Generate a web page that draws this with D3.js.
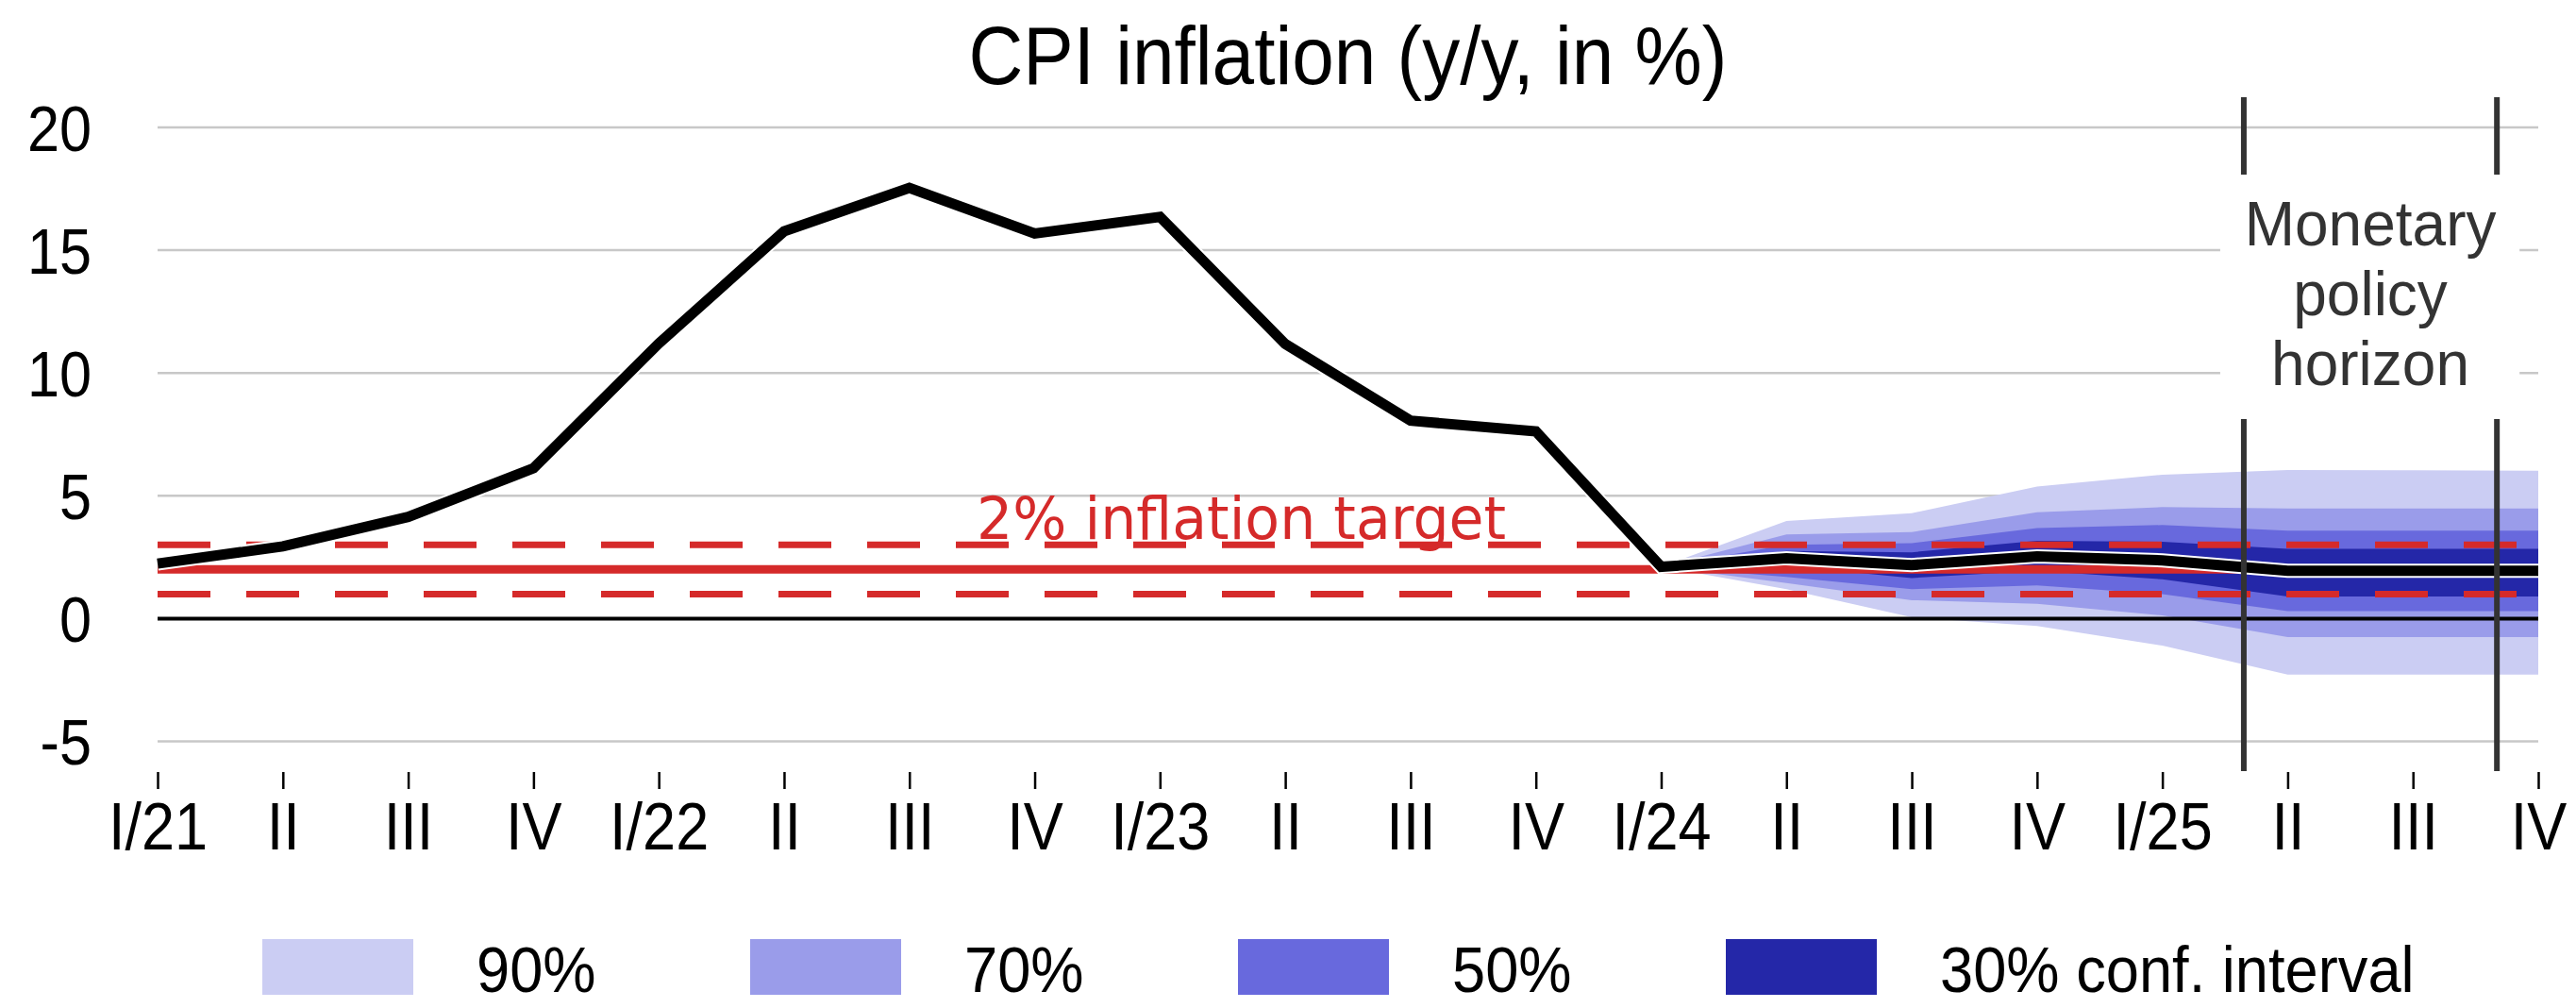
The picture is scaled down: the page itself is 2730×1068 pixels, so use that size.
<!DOCTYPE html>
<html>
<head>
<meta charset="utf-8">
<script src="https://cdn.jsdelivr.net/npm/d3@7"></script>
<style>
body { margin: 0; background: #fff; }
svg { display: block; }
</style>
</head>
<body>
<svg class="chart"></svg>
<script>
var width = 2730,
    height = 1068,
    margin = {top: 135, right: 40, bottom: 282, left: 167}

var quarterLabels = ["I/21", "II", "III", "IV", "I/22", "II", "III", "IV", "I/23", "II", "III", "IV",
    "I/24", "II", "III", "IV", "I/25", "II", "III", "IV"]
var yTicks = [-5, 0, 5, 10, 15, 20]

// actual CPI, I/21 .. I/24
var cpiActual = [2.24, 2.94, 4.14, 6.12, 11.2, 15.77, 17.54, 15.68, 16.36, 11.18, 8.06, 7.62, 2.11]

// forecast, I/24 .. IV/25
var fcStart = 12
var fcMedian = [2.11, 2.46, 2.18, 2.53, 2.37, 1.95, 1.95, 1.95]
var lo90 = [2.11, 1.2, 0.05, -0.3, -1.1, -2.28, -2.28, -2.28]
var hi90 = [2.11, 3.97, 4.29, 5.38, 5.86, 6.05, 6.04, 6.02]
var lo70 = [2.11, 1.45, 0.75, 0.6, 0.13, -0.75, -0.75, -0.75]
var hi70 = [2.11, 3.43, 3.52, 4.33, 4.54, 4.48, 4.48, 4.48]
var lo50 = [2.11, 1.7, 1.2, 1.35, 1.0, 0.3, 0.3, 0.3]
var hi50 = [2.11, 3.0, 3.07, 3.69, 3.81, 3.58, 3.58, 3.58]
var lo30 = [2.11, 2.15, 1.65, 1.95, 1.6, 0.9, 0.9, 0.9]
var hi30 = [2.11, 2.75, 2.7, 3.17, 3.13, 2.84, 2.84, 2.84]

var bandNames = ["90%", "70%", "50%", "30% conf. interval"]
var bandColors = ["#cbcdf3", "#9a9cea", "#6869dd", "#2427a8"]

var targetValue = 2
var toleranceBand = [1, 3]
var horizon = [16.65, 18.67]   // monetary policy horizon, in quarter positions

var font = "'Liberation Sans', Arial, Helvetica, sans-serif"
var red = "#d52a2a"

var svg = d3.select(".chart")
    .attr("width", width)
    .attr("height", height)
    .style("font-family", font)

var xScale = d3.scaleLinear()
    .domain([0, quarterLabels.length - 1])
    .range([margin.left, width - margin.right])
var yScale = d3.scaleLinear()
    .domain([-5, 20])
    .range([height - margin.bottom - 0.5, margin.top])

// grid
svg.append("g")
    .attr("class", "grid")
    .selectAll("line")
    .data(yTicks.filter(d => d !== 0))
    .join("line")
    .attr("x1", xScale.range()[0])
    .attr("x2", xScale.range()[1])
    .attr("y1", d => yScale(d))
    .attr("y2", d => yScale(d))
    .attr("stroke", "#c8c8c8")
    .attr("stroke-width", 2.5)

// fan chart
var bands = [[lo90, hi90], [lo70, hi70], [lo50, hi50], [lo30, hi30]]
var area = d3.area()
    .x((d, i) => xScale(fcStart + i))
    .y0(d => yScale(d[0]))
    .y1(d => yScale(d[1]))

svg.append("g")
    .attr("class", "fan")
    .selectAll("path")
    .data(bands)
    .join("path")
    .attr("fill", (d, i) => bandColors[i])
    .attr("d", b => area(b[0].map((v, i) => [v, b[1][i]])))

// zero line
svg.append("line")
    .attr("x1", xScale.range()[0])
    .attr("x2", xScale.range()[1])
    .attr("y1", yScale(0))
    .attr("y2", yScale(0))
    .attr("stroke", "#000")
    .attr("stroke-width", 4)

// inflation target + tolerance band
svg.append("line")
    .attr("x1", xScale.range()[0])
    .attr("x2", xScale.range()[1])
    .attr("y1", yScale(targetValue))
    .attr("y2", yScale(targetValue))
    .attr("stroke", red)
    .attr("stroke-width", 9)

svg.append("g")
    .selectAll("line")
    .data(toleranceBand)
    .join("line")
    .attr("x1", xScale.range()[0])
    .attr("x2", xScale.range()[1])
    .attr("y1", d => yScale(d))
    .attr("y2", d => yScale(d))
    .attr("stroke", red)
    .attr("stroke-width", 7)
    .attr("stroke-dasharray", "56,38")

svg.append("text")
    .attr("transform", `translate(${xScale(8.65)},${yScale(3.23)}) scale(0.97,1)`)
    .attr("text-anchor", "middle")
    .attr("fill", red)
    .style("font-family", "'DejaVu Sans', Verdana, sans-serif")
    .style("font-size", "62px")
    .text("2% inflation target")

// CPI line: actual + forecast median, white halo underneath
var cpiAll = cpiActual.concat(fcMedian.slice(1))
var line = d3.line()
    .x((d, i) => xScale(i))
    .y(d => yScale(d))

svg.append("path")
    .attr("fill", "none")
    .attr("stroke", "#fff")
    .attr("stroke-width", 15)
    .attr("d", line(cpiAll))

svg.append("path")
    .attr("fill", "none")
    .attr("stroke", "#000")
    .attr("stroke-width", 11)
    .attr("stroke-linejoin", "miter")
    .attr("d", line(cpiAll))

// monetary policy horizon
var hx = horizon.map(d => xScale(d))
svg.append("rect")
    .attr("x", hx[0] - 25)
    .attr("y", 190)
    .attr("width", hx[1] - hx[0] + 49)
    .attr("height", 250)
    .attr("fill", "#fff")

var segs = [[103, 185], [444, 817]]
hx.forEach(function (x) {
    segs.forEach(function (s) {
        svg.append("line")
            .attr("x1", x).attr("x2", x)
            .attr("y1", s[0]).attr("y2", s[1])
            .attr("stroke", "#333")
            .attr("stroke-width", 6)
    })
})

svg.append("g")
    .attr("transform", `translate(${(hx[0] + hx[1]) / 2},0)`)
    .selectAll("text")
    .data(["Monetary", "policy", "horizon"])
    .join("text")
    .attr("transform", (d, i) => `translate(0,${260 + i * 74}) scale(0.97,1)`)
    .attr("text-anchor", "middle")
    .attr("fill", "#333")
    .style("font-size", "66px")
    .text(d => d)

// axes
var xAxis = d3.axisBottom(xScale)
    .tickValues(d3.range(quarterLabels.length))
    .tickFormat(i => quarterLabels[i])
    .tickSize(18)
    .tickPadding(14)

svg.append("g")
    .attr("class", "x axis")
    .attr("transform", "translate(0,818)")
    .call(xAxis)
    .call(g => g.select(".domain").remove())
    .call(g => g.selectAll(".tick line").attr("stroke", "#000").attr("stroke-width", 2.5))
    .call(g => g.selectAll(".tick text")
        .attr("fill", "#000")
        .attr("transform", "scale(0.9,1)")
        .style("font-family", font)
        .style("font-size", "70px"))

var yAxis = d3.axisLeft(yScale)
    .tickValues(yTicks)
    .tickFormat(d => String(d))
    .tickSize(0)
    .tickPadding(0)

svg.append("g")
    .attr("class", "y axis")
    .attr("transform", "translate(97,0)")
    .call(yAxis)
    .call(g => g.select(".domain").remove())
    .call(g => g.selectAll(".tick text")
        .attr("fill", "#000")
        .attr("dy", "0.36em")
        .attr("transform", "scale(0.9,1)")
        .style("font-family", font)
        .style("font-size", "68px"))

// title
svg.append("text")
    .attr("transform", `translate(${(xScale.range()[0] + xScale.range()[1]) / 2},89) scale(0.91,1)`)
    .attr("text-anchor", "middle")
    .style("font-size", "88px")
    .text("CPI inflation (y/y, in %)")

// legend
var legend = svg.append("g")
    .attr("class", "legend")
    .selectAll("g")
    .data(bandNames)
    .join("g")
    .attr("transform", (d, i) => `translate(${278 + i * 517},995)`)

legend.append("rect")
    .attr("width", 160)
    .attr("height", 59)
    .attr("fill", (d, i) => bandColors[i])

legend.append("text")
    .attr("transform", "translate(227,56) scale(0.93,1)")
    .style("font-size", "68px")
    .text(d => d)
</script>
</body>
</html>
